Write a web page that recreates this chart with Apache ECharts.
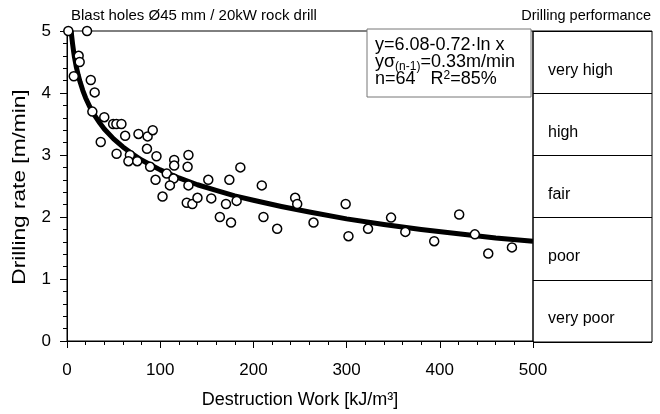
<!DOCTYPE html>
<html>
<head>
<meta charset="utf-8">
<script src="https://cdn.jsdelivr.net/npm/echarts@6/dist/echarts.min.js"></script>
<style>
  html, body { margin: 0; padding: 0; background: #fff; }
  #chart { width: 660px; height: 414px; }
</style>
</head>
<body>
<div id="chart"></div>
<script>
// measured blast holes: destruction work [kJ/m3] vs drilling rate [m/min]
const workX = [1.4, 21.5, 12.5, 13.6, 7.3, 25.5, 29.7, 27.2, 40, 49.5, 53, 58.4, 62.4, 76.7, 86.5, 92, 36.2, 85.8,
  53.2, 67.5, 65.9, 75.4, 96, 89.2, 95, 102.5, 107, 115, 115, 114.3, 110.4, 130.3, 129.4, 130.3, 128.5, 134.5,
  140, 151.6, 154.8, 164, 170.6, 174.2, 176, 182, 186, 209, 210.8, 225.5, 244.8, 247, 264.5,
  299, 302, 323, 347.7, 363, 394, 420.8, 437.6, 452, 477.4]
const rateY = [5.0, 5.0, 4.6, 4.5, 4.27, 4.21, 4.01, 3.7, 3.61, 3.5, 3.5, 3.5, 3.31, 3.34, 3.3, 3.4, 3.21, 3.1,
  3.02, 3.0, 2.9, 2.9, 2.98, 2.81, 2.6, 2.33, 2.7, 2.92, 2.83, 2.62, 2.51, 3.0, 2.81, 2.51, 2.23, 2.21,
  2.31, 2.6, 2.3, 2.0, 2.21, 2.6, 1.91, 2.26, 2.8, 2.51, 2.0, 1.81, 2.31, 2.21, 1.91,
  2.21, 1.69, 1.81, 1.99, 1.76, 1.61, 2.04, 1.72, 1.41, 1.51]

// fitted curve
const fitX = [4.5, 5, 6, 7, 8, 10, 12, 14, 17, 20, 25, 30, 35, 40, 50, 60, 70, 80, 90, 100,
  120, 140, 160, 180, 200, 230, 260, 300, 340, 380, 420, 460, 500]
const fitY = [5.0, 4.92, 4.79, 4.68, 4.58, 4.42, 4.29, 4.18, 4.04, 3.92, 3.76, 3.63, 3.52, 3.42, 3.26, 3.13, 3.02, 2.92, 2.84, 2.76,
  2.63, 2.52, 2.43, 2.34, 2.27, 2.17, 2.08, 1.97, 1.88, 1.80, 1.73, 1.66, 1.61]

const classes = ['very poor', 'poor', 'fair', 'high', 'very high']

const font = 'Liberation Sans, Arial, sans-serif'
const chart = echarts.init(document.getElementById('chart'))

chart.setOption({
  animation: false,
  textStyle: { fontFamily: font, color: '#000' },
  title: [
    { text: 'Blast holes Ø45 mm / 20kW rock drill', left: 66, top: 3,
      textStyle: { fontFamily: font, fontSize: 15, fontWeight: 'normal', color: '#000' } },
    { text: 'Drilling performance', right: 4, top: 3,
      textStyle: { fontFamily: font, fontSize: 14.5, fontWeight: 'normal', color: '#000' } }
  ],
  grid: [
    { left: 67, right: 127, top: 31, bottom: 72, show: true, borderColor: '#000', borderWidth: 1 },
    { left: 533, right: 8, top: 31, bottom: 72, show: true, borderColor: '#000', borderWidth: 1 }
  ],
  xAxis: [{
    gridIndex: 0,
    type: 'value', min: 0, max: 500, interval: 100,
    name: 'Destruction Work [kJ/m³]', nameLocation: 'middle', nameGap: 50,
    nameTextStyle: { fontSize: 18, color: '#000' },
    axisLine: { lineStyle: { color: '#000' } },
    axisTick: { length: 7, lineStyle: { color: '#000' } },
    minorTick: { show: true, splitNumber: 5, length: 4, lineStyle: { color: '#000' } },
    axisLabel: { fontSize: 17, color: '#000', margin: 21 },
    splitLine: { show: false }
  }, {
    gridIndex: 1, type: 'value', min: 0, max: 1, show: false
  }],
  yAxis: [{
    gridIndex: 0,
    type: 'value', min: 0, max: 5, interval: 1,
    axisLine: { show: true, lineStyle: { color: '#000' } },
    axisTick: { show: true, length: 7, lineStyle: { color: '#000' } },
    minorTick: { show: true, splitNumber: 5, length: 4, lineStyle: { color: '#000' } },
    axisLabel: { fontSize: 17, color: '#000', margin: 16 },
    splitLine: { show: false }
  }, {
    gridIndex: 1,
    type: 'category', data: classes,
    axisLine: { show: false },
    axisTick: { show: false },
    axisLabel: {
      inside: true, margin: 15, fontSize: 16, color: '#000', verticalAlign: 'top',
      formatter: v => v === 'very poor' ? '{w|' + v + '}' : v,
      rich: { w: { fontSize: 16, fontFamily: font, color: '#000', padding: [0, 0, 0, 0], align: 'left' } }
    },
    splitLine: { show: true, lineStyle: { color: '#000', width: 1 } }
  }],
  series: [{
    type: 'line',
    xAxisIndex: 0, yAxisIndex: 0,
    data: fitX.map((x, i) => [x, fitY[i]]),
    showSymbol: false,
    lineStyle: { color: '#000', width: 5, join: 'round' },
    z: 2
  }, {
    type: 'scatter',
    xAxisIndex: 0, yAxisIndex: 0,
    data: workX.map((x, i) => [x, rateY[i]]),
    symbol: 'circle', symbolSize: 9,
    itemStyle: { color: '#fff', borderColor: '#000', borderWidth: 1.5, opacity: 1 },
    z: 3
  }],
  graphic: [{
    // y axis title, stretched lengthwise like the original
    type: 'text',
    x: 20, y: 187,
    rotation: Math.PI / 2,
    scaleX: 1.26,
    style: {
      text: 'Drilling rate [m/min]',
      font: '18px ' + font,
      fill: '#000',
      align: 'center',
      verticalAlign: 'middle'
    }
  }, {
    type: 'rect',
    shape: { x: 367, y: 29, width: 164, height: 68 },
    style: { fill: '#fff', stroke: '#777', lineWidth: 1 },
    z: 10
  }, {
    type: 'text',
    left: 375, top: 36,
    z: 11,
    style: {
      text: '{n|y=6.08-0.72·ln x}\n{n|yσ}{sub|(n-1)}{n|=0.33m/min}\n{n|n=64   R}{sup|2}{n|=85%}',
      font: '18px ' + font,
      fill: '#000',
      rich: {
        n: { fontSize: 18, fontFamily: font, lineHeight: 17 },
        sub: { fontSize: 12, fontFamily: font, padding: [9, 0, 0, 0], lineHeight: 17 },
        sup: { fontSize: 12, fontFamily: font, padding: [0, 0, 7, 0], lineHeight: 17 }
      }
    }
  }]
})
</script>
</body>
</html>
